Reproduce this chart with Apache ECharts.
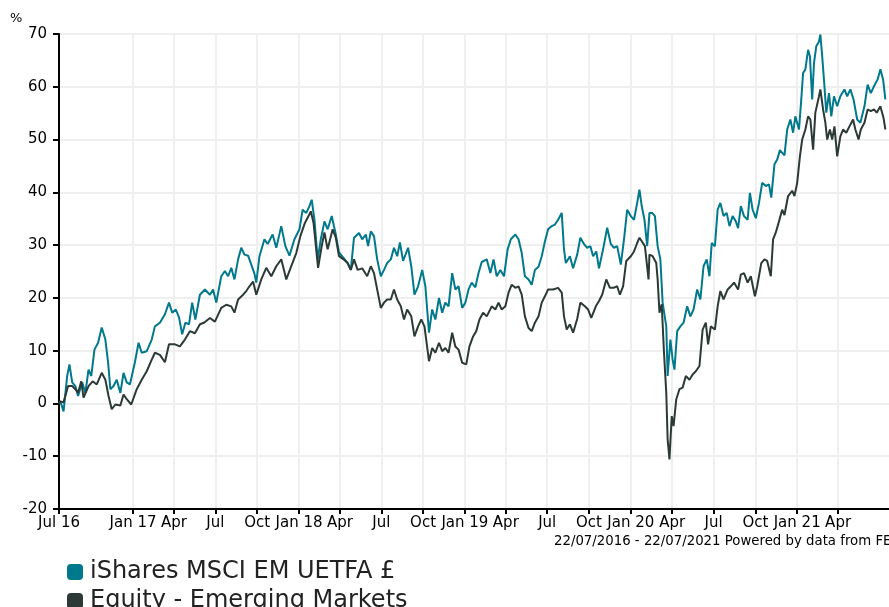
<!DOCTYPE html>
<html>
<head>
<meta charset="utf-8">
<script src="https://cdn.jsdelivr.net/npm/echarts@6.0.0/dist/echarts.min.js"></script>
<style>
  html, body { margin: 0; padding: 0; background: #fff; }
  #chart { width: 889px; height: 607px; }
</style>
</head>
<body>
<div id="chart"></div>
<script>
// performance since 22/07/2016, %
const startDate = '2016-07-22'
const endDate = '2021-07-22'

const tickDates = ['2016-07-22', '2017-01-01', '2017-04-01', '2017-07-01', '2017-10-01',
  '2018-01-01', '2018-04-01', '2018-07-01', '2018-10-01', '2019-01-01', '2019-04-01',
  '2019-07-01', '2019-10-01', '2020-01-01', '2020-04-01', '2020-07-01', '2020-10-01',
  '2021-01-01', '2021-04-01']
const tickLabels = ['Jul 16', 'Jan 17', 'Apr', 'Jul', 'Oct', 'Jan 18', 'Apr', 'Jul', 'Oct',
  'Jan 19', 'Apr', 'Jul', 'Oct', 'Jan 20', 'Apr', 'Jul', 'Oct', 'Jan 21', 'Apr']

const seriesNames = ['iShares MSCI EM UETFA £', 'Equity - Emerging Markets']

const ishares = [
  ['2016-07-22', 0], ['2016-07-25', 0.4], ['2016-08-01', -1.5], ['2016-08-09', 5.2], ['2016-08-14', 7.4],
  ['2016-08-20', 4], ['2016-08-27', 3.3], ['2016-09-02', 1.4], ['2016-09-11', 4], ['2016-09-18', 2],
  ['2016-09-25', 6.4], ['2016-10-01', 5.2], ['2016-10-08', 10.2], ['2016-10-16', 11.5], ['2016-10-24', 14.4],
  ['2016-11-01', 12.1], ['2016-11-07', 7.8], ['2016-11-12', 2.7], ['2016-11-19', 3.3], ['2016-11-26', 4.5],
  ['2016-12-04', 2], ['2016-12-11', 5.8], ['2016-12-18', 4], ['2016-12-25', 3.6],
  ['2017-01-05', 7.8], ['2017-01-13', 11.5], ['2017-01-20', 9.6], ['2017-01-31', 9.9], ['2017-02-11', 12.1],
  ['2017-02-18', 14.6], ['2017-03-01', 15.3], ['2017-03-12', 16.9], ['2017-03-21', 19.1], ['2017-03-28', 17.2],
  ['2017-04-05', 17.8], ['2017-04-12', 16.3], ['2017-04-19', 13.1], ['2017-04-26', 15.3], ['2017-05-04', 15],
  ['2017-05-11', 19.1], ['2017-05-18', 15.9], ['2017-05-28', 20.6], ['2017-06-08', 21.6], ['2017-06-19', 20.6],
  ['2017-06-26', 21.6], ['2017-07-03', 19.1], ['2017-07-14', 24.1], ['2017-07-22', 25.1], ['2017-07-29', 24.1],
  ['2017-08-05', 25.7], ['2017-08-12', 23.5], ['2017-08-20', 27.3], ['2017-08-27', 29.5], ['2017-09-03', 28.2],
  ['2017-09-11', 28], ['2017-09-18', 26.3], ['2017-09-25', 24.6], ['2017-09-29', 22.9], ['2017-10-06', 27.9],
  ['2017-10-17', 31.1], ['2017-10-24', 30.2], ['2017-11-04', 32], ['2017-11-12', 29.5], ['2017-11-23', 33.6],
  ['2017-12-02', 29.8], ['2017-12-11', 28], ['2017-12-22', 31.1],
  ['2018-01-02', 33], ['2018-01-09', 36.7], ['2018-01-17', 36.1], ['2018-01-24', 37.4], ['2018-01-29', 38.6],
  ['2018-02-04', 34.8], ['2018-02-11', 27.3], ['2018-02-18', 31.1], ['2018-02-26', 34.5], ['2018-03-05', 33],
  ['2018-03-14', 35.5], ['2018-03-23', 32], ['2018-03-30', 28.6], ['2018-04-09', 27.6], ['2018-04-18', 26.6],
  ['2018-04-25', 25.3], ['2018-05-02', 31.4], ['2018-05-13', 32.3], ['2018-05-20', 31.1], ['2018-05-28', 32],
  ['2018-06-02', 29.8], ['2018-06-08', 32.6], ['2018-06-15', 31.7], ['2018-06-22', 27.3], ['2018-06-30', 24.1],
  ['2018-07-07', 25.3], ['2018-07-14', 26.6], ['2018-07-22', 27.3], ['2018-07-29', 29.5], ['2018-08-05', 27.9],
  ['2018-08-11', 30.5], ['2018-08-18', 27], ['2018-08-29', 29.5], ['2018-09-05', 26], ['2018-09-12', 20.6],
  ['2018-09-20', 22.2], ['2018-09-29', 25.3], ['2018-10-06', 22.2], ['2018-10-14', 13.4], ['2018-10-21', 17.8],
  ['2018-10-28', 15.9], ['2018-11-05', 20], ['2018-11-12', 17.2], ['2018-11-19', 19.1], ['2018-11-26', 18.4],
  ['2018-12-04', 24.7], ['2018-12-11', 21.6], ['2018-12-18', 22.2], ['2018-12-26', 18.1],
  ['2019-01-02', 19.1], ['2019-01-09', 21.6], ['2019-01-16', 22.9], ['2019-01-24', 22], ['2019-01-31', 24.7],
  ['2019-02-07', 26.8], ['2019-02-18', 27.3], ['2019-02-26', 24.7], ['2019-03-05', 27.3], ['2019-03-12', 24.1],
  ['2019-03-20', 25.3], ['2019-03-28', 24.1], ['2019-04-05', 29.2], ['2019-04-12', 31.1], ['2019-04-22', 32],
  ['2019-04-29', 31.1], ['2019-05-06', 28.5], ['2019-05-13', 24.1], ['2019-05-21', 23.5], ['2019-05-28', 22.5],
  ['2019-06-04', 25.3], ['2019-06-12', 25.9], ['2019-06-19', 27.9], ['2019-06-26', 30.7], ['2019-07-03', 33],
  ['2019-07-11', 33.6], ['2019-07-18', 33.9], ['2019-07-25', 34.8], ['2019-08-02', 36.1], ['2019-08-07', 29.2],
  ['2019-08-11', 26.6], ['2019-08-20', 27.9], ['2019-08-27', 25.6], ['2019-09-05', 28.2], ['2019-09-12', 31.4],
  ['2019-09-20', 30.2], ['2019-09-27', 29.5], ['2019-10-04', 29.8], ['2019-10-10', 27.9], ['2019-10-17', 28.8],
  ['2019-10-23', 25.6], ['2019-11-01', 29.2], ['2019-11-10', 33.3], ['2019-11-18', 30.2], ['2019-11-25', 29.5],
  ['2019-12-02', 29.8], ['2019-12-10', 26.3], ['2019-12-17', 31.1], ['2019-12-24', 36.7],
  ['2020-01-01', 35.5], ['2020-01-08', 34.8], ['2020-01-15', 38], ['2020-01-20', 40.5], ['2020-01-25', 37.4],
  ['2020-01-31', 34.8], ['2020-02-06', 29.8], ['2020-02-11', 36.1], ['2020-02-17', 36.1], ['2020-02-23', 35.5],
  ['2020-02-29', 29.8], ['2020-03-06', 27.3], ['2020-03-11', 19.1], ['2020-03-19', 14.6], ['2020-03-22', 5.2],
  ['2020-03-28', 12.1], ['2020-04-02', 8.3], ['2020-04-06', 6.4], ['2020-04-12', 13.7], ['2020-04-19', 14.6],
  ['2020-04-26', 15.3], ['2020-05-04', 18.4], ['2020-05-11', 16.5], ['2020-05-18', 17.8], ['2020-05-26', 21.6],
  ['2020-06-02', 19.7], ['2020-06-09', 26], ['2020-06-16', 27.3], ['2020-06-22', 24.1], ['2020-06-27', 30.4],
  ['2020-07-04', 29.8], ['2020-07-10', 36.7], ['2020-07-16', 38], ['2020-07-23', 35.5], ['2020-07-30', 36.1],
  ['2020-08-05', 33.6], ['2020-08-12', 35.5], ['2020-08-19', 34.5], ['2020-08-24', 33.2], ['2020-08-30', 37.4],
  ['2020-09-06', 35.5], ['2020-09-14', 34.8], ['2020-09-19', 39.9], ['2020-09-25', 36.7], ['2020-10-02', 35.1],
  ['2020-10-09', 38], ['2020-10-16', 41.8], ['2020-10-24', 41.2], ['2020-10-31', 41.5], ['2020-11-05', 39],
  ['2020-11-12', 45.3], ['2020-11-18', 46.2], ['2020-11-24', 48], ['2020-12-04', 47], ['2020-12-10', 51.9],
  ['2020-12-17', 53.8], ['2020-12-23', 51.3], ['2020-12-28', 54.4],
  ['2021-01-05', 51.9], ['2021-01-10', 57.6], ['2021-01-14', 62.6], ['2021-01-19', 63.3], ['2021-01-25', 67],
  ['2021-01-29', 65.8], ['2021-02-03', 57.6], ['2021-02-07', 64.5], ['2021-02-12', 67.7], ['2021-02-18', 68.6],
  ['2021-02-21', 69.9], ['2021-02-25', 65.8], ['2021-03-02', 60.1], ['2021-03-06', 55.1], ['2021-03-12', 58.8],
  ['2021-03-17', 54.4], ['2021-03-23', 58.2], ['2021-03-30', 56.3], ['2021-04-06', 58.2], ['2021-04-15', 59.5],
  ['2021-04-21', 58.2], ['2021-04-28', 59.5], ['2021-05-05', 57.6], ['2021-05-13', 53.8], ['2021-05-20', 53.2],
  ['2021-05-29', 56.3], ['2021-06-05', 60.4], ['2021-06-12', 58.8], ['2021-06-19', 60.1], ['2021-06-27', 61.4],
  ['2021-07-03', 63.3], ['2021-07-09', 61.4], ['2021-07-14', 57.6]
]

const emerging = [
  ['2016-07-22', 0], ['2016-07-25', 0.4], ['2016-08-01', 0.2], ['2016-08-11', 3.3], ['2016-08-20', 3.3],
  ['2016-08-27', 2.7], ['2016-09-02', 2], ['2016-09-09', 4.2], ['2016-09-14', 1.1], ['2016-09-25', 3.3],
  ['2016-10-04', 4.2], ['2016-10-13', 3.6], ['2016-10-24', 5.8], ['2016-11-01', 4.5], ['2016-11-08', 1.4],
  ['2016-11-15', -1.1], ['2016-11-23', -0.2], ['2016-12-04', -0.4], ['2016-12-11', 1.7], ['2016-12-18', 0.8],
  ['2016-12-28', -0.2],
  ['2017-01-09', 2.7], ['2017-01-20', 4.5], ['2017-01-31', 6.1], ['2017-02-11', 8.3], ['2017-02-18', 9.6],
  ['2017-03-01', 9.2], ['2017-03-12', 7.8], ['2017-03-21', 11.2], ['2017-04-03', 11.2], ['2017-04-14', 10.8],
  ['2017-04-25', 12.1], ['2017-05-06', 13.7], ['2017-05-17', 13.3], ['2017-05-28', 15], ['2017-06-06', 15.3],
  ['2017-06-19', 16.2], ['2017-06-30', 15.5], ['2017-07-14', 18.1], ['2017-07-25', 18.7], ['2017-08-05', 18.4],
  ['2017-08-12', 17.2], ['2017-08-20', 19.7], ['2017-08-31', 20.6], ['2017-09-07', 21.3], ['2017-09-14', 22.2],
  ['2017-09-22', 23.1], ['2017-09-29', 20.6], ['2017-10-10', 23.5], ['2017-10-21', 25.7], ['2017-11-01', 24.1],
  ['2017-11-12', 26], ['2017-11-23', 27.3], ['2017-12-04', 23.5], ['2017-12-15', 26], ['2017-12-26', 28.5],
  ['2018-01-04', 31.7], ['2018-01-14', 34.2], ['2018-01-22', 35.5], ['2018-01-27', 36.4], ['2018-02-02', 34.2],
  ['2018-02-12', 25.7], ['2018-02-20', 29.8], ['2018-02-26', 32.4], ['2018-03-05', 29.2], ['2018-03-16', 33],
  ['2018-03-23', 31.4], ['2018-03-30', 27.9], ['2018-04-09', 27.3], ['2018-04-18', 26.6], ['2018-04-25', 25.3],
  ['2018-05-02', 27.3], ['2018-05-10', 25.3], ['2018-05-20', 25.6], ['2018-05-31', 24.1], ['2018-06-08', 26],
  ['2018-06-15', 24.7], ['2018-06-22', 21.6], ['2018-06-30', 18.1], ['2018-07-07', 19.1], ['2018-07-14', 19.7],
  ['2018-07-22', 19.7], ['2018-07-29', 21.6], ['2018-08-05', 19.7], ['2018-08-13', 18.4], ['2018-08-20', 15.9],
  ['2018-08-27', 17.8], ['2018-09-05', 16.5], ['2018-09-12', 12.7], ['2018-09-20', 14.6], ['2018-09-27', 15.9],
  ['2018-10-04', 14.6], ['2018-10-14', 8], ['2018-10-21', 10.5], ['2018-10-28', 9.6], ['2018-11-05', 11.5],
  ['2018-11-12', 9.9], ['2018-11-19', 10.5], ['2018-11-26', 9.6], ['2018-12-04', 13.4], ['2018-12-11', 10.8],
  ['2018-12-18', 10.2], ['2018-12-26', 7.7],
  ['2019-01-04', 7.4], ['2019-01-11', 10.8], ['2019-01-19', 12.7], ['2019-01-26', 13.7], ['2019-02-02', 15.9],
  ['2019-02-10', 17.2], ['2019-02-18', 16.5], ['2019-03-01', 18.4], ['2019-03-09', 17.8], ['2019-03-16', 19.1],
  ['2019-03-23', 17.8], ['2019-03-31', 18.4], ['2019-04-07', 21], ['2019-04-14', 22.5], ['2019-04-22', 21.9],
  ['2019-04-29', 22.2], ['2019-05-06', 20.6], ['2019-05-13', 16.5], ['2019-05-21', 14.3], ['2019-05-28', 13.7],
  ['2019-06-04', 15.3], ['2019-06-12', 16.5], ['2019-06-19', 19.1], ['2019-06-26', 20.3], ['2019-07-03', 21.6],
  ['2019-07-14', 21.6], ['2019-07-25', 21.9], ['2019-08-02', 21], ['2019-08-07', 16.5], ['2019-08-13', 14],
  ['2019-08-20', 15], ['2019-08-27', 13.4], ['2019-09-05', 16], ['2019-09-12', 19.1], ['2019-09-22', 18.4],
  ['2019-09-29', 17.8], ['2019-10-06', 16.2], ['2019-10-16', 18.4], ['2019-10-23', 19.4], ['2019-10-30', 20.6],
  ['2019-11-08', 23.5], ['2019-11-16', 21.9], ['2019-11-24', 21.9], ['2019-12-02', 22.2], ['2019-12-08', 20.6],
  ['2019-12-15', 22.2], ['2019-12-22', 27],
  ['2020-01-01', 27.9], ['2020-01-08', 28.8], ['2020-01-15', 30.4], ['2020-01-20', 31.4], ['2020-02-01', 29.8],
  ['2020-02-09', 23.5], ['2020-02-11', 28.2], ['2020-02-18', 27.9], ['2020-02-26', 26.6], ['2020-02-29', 23.5],
  ['2020-03-04', 17.2], ['2020-03-09', 18.8], ['2020-03-14', 9.6], ['2020-03-19', 2], ['2020-03-22', -6.8],
  ['2020-03-26', -10.6], ['2020-03-31', -2.4], ['2020-04-04', -4.3], ['2020-04-10', 0.8], ['2020-04-17', 2.7],
  ['2020-04-24', 3], ['2020-05-01', 5.2], ['2020-05-09', 4.5], ['2020-05-16', 5.5], ['2020-05-23', 6.1],
  ['2020-05-31', 7.1], ['2020-06-07', 14], ['2020-06-14', 15.3], ['2020-06-19', 11.2], ['2020-06-25', 14.6],
  ['2020-07-04', 14], ['2020-07-10', 18.4], ['2020-07-16', 21.3], ['2020-07-23', 19.7], ['2020-08-01', 21.6],
  ['2020-08-08', 22.2], ['2020-08-15', 22.9], ['2020-08-24', 21.6], ['2020-08-30', 24.4], ['2020-09-06', 24.7],
  ['2020-09-14', 22.9], ['2020-09-21', 24.1], ['2020-09-30', 20.3], ['2020-10-05', 22.2], ['2020-10-14', 26.6],
  ['2020-10-21', 27.3], ['2020-10-27', 27], ['2020-11-04', 24.1], ['2020-11-09', 31.1], ['2020-11-15', 32.4],
  ['2020-11-22', 34.5], ['2020-11-29', 36.7], ['2020-12-04', 35.7], ['2020-12-12', 39.3], ['2020-12-21', 40.3],
  ['2020-12-26', 39.3],
  ['2021-01-01', 41.8], ['2021-01-07', 46.8], ['2021-01-12', 50], ['2021-01-19', 51.9], ['2021-01-25', 54.4],
  ['2021-01-30', 53.8], ['2021-02-05', 48.1], ['2021-02-10', 55.1], ['2021-02-18', 58.2], ['2021-02-21', 59.5],
  ['2021-02-27', 55.7], ['2021-03-04', 53.2], ['2021-03-08', 50], ['2021-03-14', 51.9], ['2021-03-19', 50],
  ['2021-03-24', 52.5], ['2021-03-30', 46.8], ['2021-04-06', 50.6], ['2021-04-12', 51.9], ['2021-04-19', 51.3],
  ['2021-04-26', 52.5], ['2021-05-04', 53.8], ['2021-05-09', 51.9], ['2021-05-16', 50], ['2021-05-21', 51.9],
  ['2021-05-29', 53.2], ['2021-06-05', 55.7], ['2021-06-12', 55.4], ['2021-06-19', 55.7], ['2021-06-25', 55.1],
  ['2021-07-03', 56.3], ['2021-07-10', 54.1], ['2021-07-14', 51.9]
]

const FONT = 'DejaVu Sans'
const toTime = d => echarts.time.parse(d).getTime()
const tickValues = tickDates.map(toTime)
const labelOf = {}
tickValues.forEach((v, i) => { labelOf[v] = tickLabels[i] })
const asTime = rows => rows.map(([d, v]) => [toTime(d), v])

// one legend per row so the second entry stays under the first
const legendRow = (name, top) => ({
  data: [name],
  left: 62,
  top: top,
  icon: 'roundRect',
  itemWidth: 16,
  itemHeight: 16,
  textStyle: { fontSize: 24, color: '#222', fontFamily: FONT, padding: [0, 0, 0, 2] }
})

const chart = echarts.init(document.getElementById('chart'))
chart.setOption({
  animation: false,
  color: ['#00798c', '#2c3a37'],
  textStyle: { fontFamily: FONT },
  grid: { left: 59, right: -3, top: 34, bottom: 98 },
  legend: [legendRow(seriesNames[0], 555), legendRow(seriesNames[1], 584)],
  graphic: [
    { type: 'text', left: 10, top: 12, style: { text: '%', fill: '#000', font: '13px "DejaVu Sans"' } },
    { type: 'text', left: 554, top: 535, style: { text: '22/07/2016 - 22/07/2021 Powered by data from FE', fill: '#000', font: '13.3px "DejaVu Sans"' } }
  ],
  xAxis: {
    type: 'value',
    min: toTime(startDate),
    max: toTime(endDate),
    axisLine: { onZero: false, lineStyle: { color: '#000', width: 2 } },
    axisTick: { show: true, length: 5, lineStyle: { color: '#000', width: 2 }, customValues: tickValues },
    axisLabel: {
      customValues: tickValues,
      formatter: v => labelOf[v] || '',
      color: '#000',
      fontSize: 15,
      fontFamily: FONT,
      margin: 7
    },
    splitLine: { show: true, lineStyle: { color: '#efefef', width: 2 } }
  },
  yAxis: {
    type: 'value',
    min: -20,
    max: 70,
    interval: 10,
    axisLine: { show: true, lineStyle: { color: '#000', width: 2 } },
    axisTick: { show: true, length: 6, lineStyle: { color: '#000', width: 2 } },
    axisLabel: { color: '#000', fontSize: 15, fontFamily: FONT, margin: 12 },
    splitLine: { lineStyle: { color: '#efefef', width: 2 } }
  },
  series: [
    {
      name: seriesNames[0],
      type: 'line',
      data: asTime(ishares),
      showSymbol: false,
      lineStyle: { width: 2 },
      z: 2
    },
    {
      name: seriesNames[1],
      type: 'line',
      data: asTime(emerging),
      showSymbol: false,
      lineStyle: { width: 2 },
      z: 3
    }
  ]
})
</script>
</body>
</html>
